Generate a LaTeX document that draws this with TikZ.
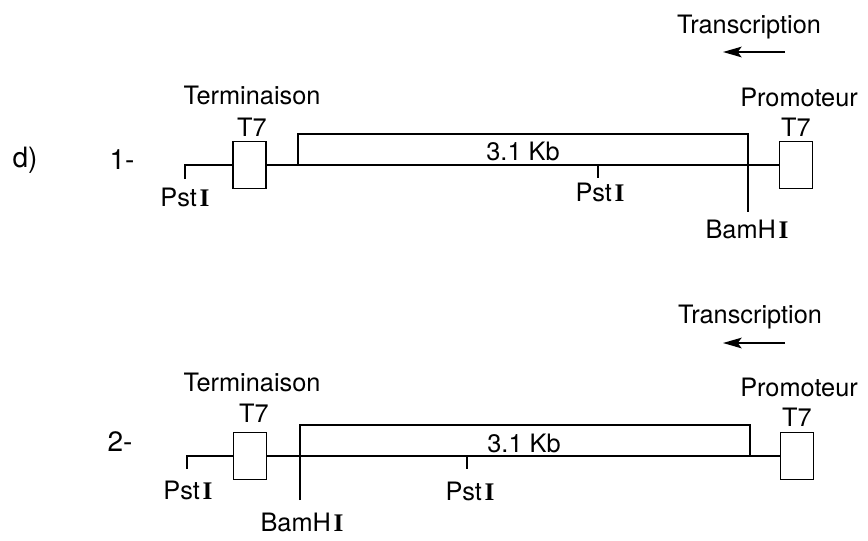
\documentclass[tikz,border=0pt]{standalone}
\usepackage{fontspec}
\setmainfont{TeX Gyre Heros}
\newfontfamily\serifI{Liberation Serif}
\newcommand{\enzI}{{\serifI\bfseries I}}
\usetikzlibrary{arrows.meta}

\tikzset{every picture/.style={line width=1.2pt}}
\tikzset{
  lbl/.style={inner sep=0.75pt, font=\fontsize{19}{22}\selectfont},
  biglbl/.style={inner sep=0.75pt, font=\fontsize{21}{24}\selectfont},
  t7box/.style={draw, minimum width=25pt, minimum height=35pt, inner sep=0pt},
  txarrow/.style={-{Stealth[length=14pt,width=8pt,inset=3pt]}},
}

\begin{document}
\begin{tikzpicture}[x=0.75pt,y=0.75pt,yscale=-1,xscale=1]
\useasboundingbox (0,0) rectangle (868,540);

%%% Construction 1
%Shape: T7 boxes
\node[t7box] (termA) at (249.5,165) {};
\node[t7box] (promA) at (796,165) {};
%Points on the DNA line
\coordinate (pstLA) at (185,165);
\coordinate (pstMA) at (598,165);
\coordinate (insLA) at (298,165);
\coordinate (insRA) at (748,134);
\coordinate (bamA) at (748,212);
%Lines
\draw (pstLA) ++(0,14) -- (pstLA) -- (termA.west);
\draw (termA.east) -- (promA.west);
\draw (insLA) |- (insRA) -- (bamA);
\draw (pstMA) -- ++(0,13);
%Transcription arrow
\coordinate (trA1) at (785,52);
\coordinate (trA2) at (723,52);
\draw[txarrow] (trA1) -- (trA2);

% Text Nodes
\node[biglbl] (dlbl) at (25,160) {d)};
\node[biglbl] (numA) at (122,160) {1-};
\node[lbl] (termlblA) at (252,95) {Terminaison};
\node[lbl] (termt7A) at (252,127) {T7};
\node[lbl] (promlblA) at (799,97) {Promoteur};
\node[lbl] (promt7A) at (796,127) {T7};
\node[lbl] (trlblA) at (749,27) {Transcription};
\node[lbl] (pstLlblA) at (185,197) {Pst\hspace{2pt}\enzI};
\node[lbl] (pstMlblA) at (600,192) {Pst\hspace{2pt}\enzI};
\node[lbl] (bamlblA) at (747,229) {BamH\hspace{2pt}\enzI};
\node[lbl] (kbA) at (523,151) {3.1 Kb};

%%% Construction 2
%Shape: T7 boxes
\node[t7box] (termB) at (250,456) {};
\node[t7box] (promB) at (797,456) {};
%Points on the DNA line
\coordinate (pstLB) at (187,456);
\coordinate (pstMB) at (467,456);
\coordinate (bamB) at (300,500);
\coordinate (insTB) at (300,425);
\coordinate (insRB) at (750,456);
%Lines
\draw (pstLB) ++(0,13) -- (pstLB) -- (termB.west);
\draw (termB.east) -- (promB.west);
\draw (bamB) -- (insTB) -| (insRB);
\draw (pstMB) -- ++(0,13);
%Transcription arrow
\coordinate (trB1) at (785,343);
\coordinate (trB2) at (723,343);
\draw[txarrow] (trB1) -- (trB2);

% Text Nodes
\node[biglbl] (numB) at (120,442) {2-};
\node[lbl] (termlblB) at (252,382) {Terminaison};
\node[lbl] (termt7B) at (254,413) {T7};
\node[lbl] (promlblB) at (799,387) {Promoteur};
\node[lbl] (promt7B) at (797,417) {T7};
\node[lbl] (trlblB) at (750,317) {Transcription};
\node[lbl] (pstLlblB) at (188,490) {Pst\hspace{2pt}\enzI};
\node[lbl] (pstMlblB) at (470,491) {Pst\hspace{2pt}\enzI};
\node[lbl] (bamlblB) at (302,522) {BamH\hspace{2pt}\enzI};
\node[lbl] (kbB) at (524,443) {3.1 Kb};
\end{tikzpicture}
\end{document}
